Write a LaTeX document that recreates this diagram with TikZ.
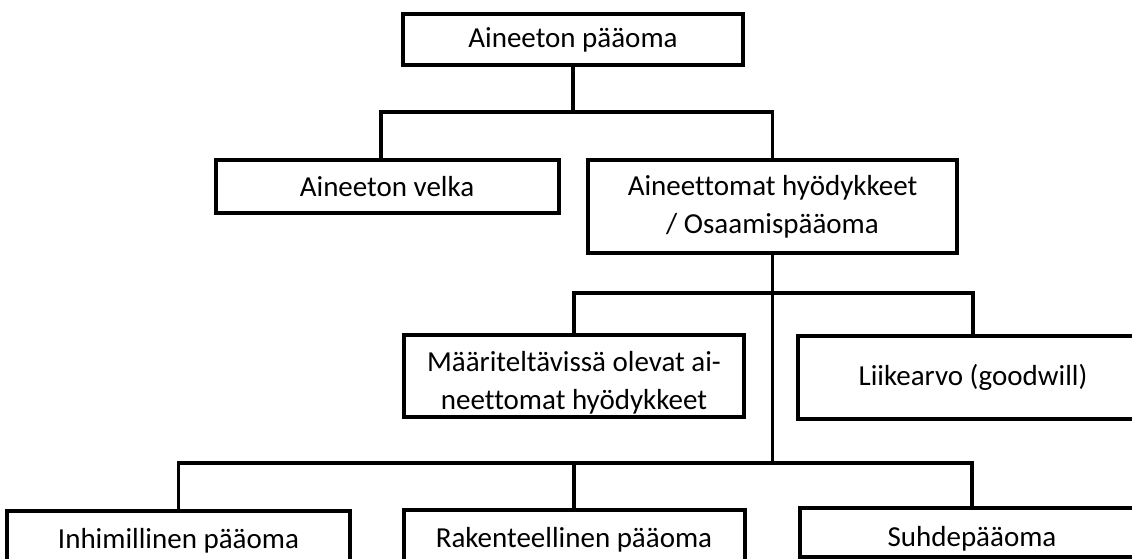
\documentclass[tikz,border=0pt]{standalone}
\usepackage{fontspec}
\setmainfont{Carlito}[Ligatures=NoCommon]

\begin{document}
\begin{tikzpicture}[x=1pt,y=-1pt,
  box/.style={draw,line width=4pt,align=center,inner sep=0pt,font=\fontsize{29}{38}\selectfont},
  link/.style={line width=3.5pt}]
\clip (0,0) rectangle (1132,559);
% boxes
\node[box,minimum width=340pt,minimum height=51pt] (paaoma) at (573,39.5) {Aineeton pääoma};
\node[box,minimum width=343pt,minimum height=53pt] (velka) at (387,186.5) {Aineeton velka};
\node[box,minimum width=369pt,minimum height=93pt] (hyodykkeet) at (772.5,206.5) {Aineettomat hyödykkeet\\/ Osaamispääoma};
\node[box,minimum width=340pt,minimum height=82pt] (maaritelt) at (574,376) {\rule{0pt}{34pt}Määriteltävissä olevat ai-\\neettomat hyödykkeet};
\node[box,minimum width=350pt,minimum height=83pt] (liikearvo) at (973,377.5) {Liikearvo (goodwill)};
\node[box,minimum width=343pt,minimum height=60pt] (inhim) at (178.5,541) {Inhimillinen pääoma};
\node[box,minimum width=341pt,minimum height=60pt] (rakent) at (574,540) {Rakenteellinen pääoma};
\node[box,minimum width=344pt,minimum height=49pt] (suhde) at (972,532.5) {\rule{0pt}{32pt}Suhdepääoma};
% levels of the tree
\coordinate (lvl1) at (0,112);
\coordinate (lvl2) at (0,293);
\coordinate (lvl3) at (0,463);
% connectors
\draw[link] (paaoma.south) -- (paaoma.south |- lvl1);
\draw[link] ([xshift=-6pt]velka.north) -- ([xshift=-6pt]velka.north |- lvl1) -- (hyodykkeet.north |- lvl1) -- (hyodykkeet.north);
\draw[link] (hyodykkeet.south) -- (hyodykkeet.south |- lvl3);
\draw[link] (maaritelt.north) -- (maaritelt.north |- lvl2) -- (liikearvo.north |- lvl2) -- (liikearvo.north);
\draw[link] (inhim.north) -- (inhim.north |- lvl3) -- (suhde.north |- lvl3) -- (suhde.north);
\draw[link] (rakent.north) -- (rakent.north |- lvl3);
\end{tikzpicture}
\end{document}
